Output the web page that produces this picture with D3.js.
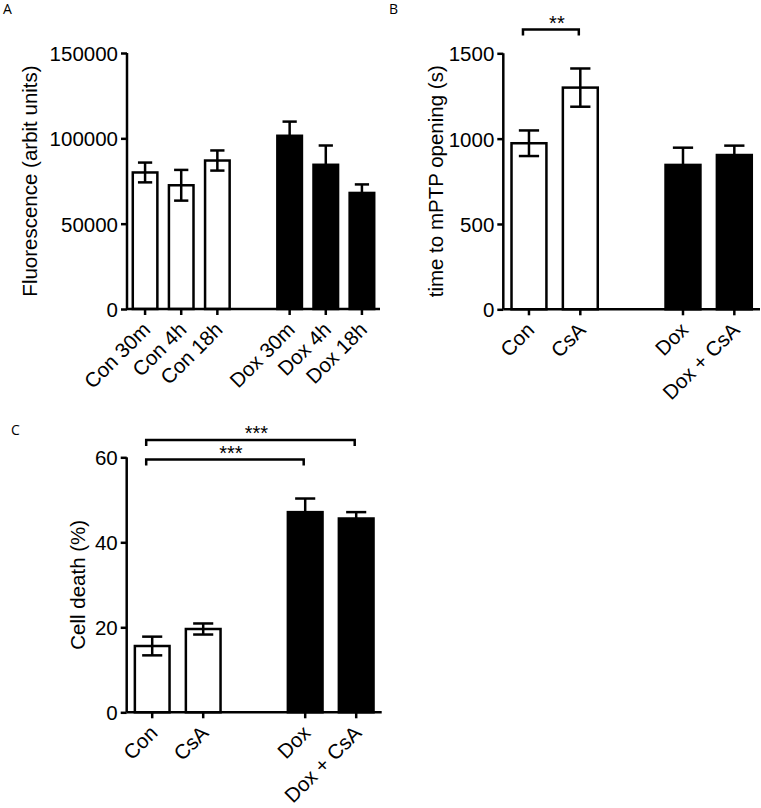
<!DOCTYPE html>
<html>
<head>
<meta charset="utf-8">
<script src="https://cdn.jsdelivr.net/npm/d3@7"></script>
<style>
  html, body { margin: 0; padding: 0; background: #fff; }
  svg { display: block; }
  text { font-family: "Liberation Sans", Arial, sans-serif; fill: #000; }
</style>
</head>
<body>
<svg id="chart" width="761" height="808"></svg>
<script>
// ---------- DATA ----------
// Panel A
const catsA = ["Con 30m", "Con 4h", "Con 18h", "Dox 30m", "Dox 4h", "Dox 18h"];
const groupA = ["con", "con", "con", "dox", "dox", "dox"];
const meanA = [80000, 72500, 87000, 101500, 84500, 68000];
const semA = [5800, 9000, 5900, 8300, 11300, 5000];
const ticksA = [0, 50000, 100000, 150000];
const titleA = "Fluorescence (arbit units)";

// Panel B
const catsB = ["Con", "CsA", "Dox", "Dox + CsA"];
const groupB = ["con", "con", "dox", "dox"];
const meanB = [973, 1299, 846, 904];
const semB = [75, 112, 101, 55];
const ticksB = [0, 500, 1000, 1500];
const titleB = "time to mPTP opening (s)";
const sigFromB = ["Con"];
const sigToB = ["CsA"];
const sigLabelB = ["**"];
const sigLevelB = [1640];

// Panel C
const catsC = ["Con", "CsA", "Dox", "Dox + CsA"];
const groupC = ["con", "con", "dox", "dox"];
const meanC = [15.6, 19.6, 47.1, 45.6];
const semC = [2.2, 1.3, 3.2, 1.5];
const ticksC = [0, 20, 40, 60];
const titleC = "Cell death (%)";
const sigFromC = ["Con", "Con"];
const sigToC = ["Dox", "Dox + CsA"];
const sigLabelC = ["***", "***"];
const sigLevelC = [59.5, 64.1];

// ---------- DRAWING ----------
const svg = d3.select("#chart");
svg.append("rect").attr("width", 761).attr("height", 808).attr("fill", "#fff");
const SW = 2.5;
const FONT = '"Liberation Sans", Arial, sans-serif';

function drawPanel(opt) {
  const g = svg.append("g");
  // insert a gap slot between groups
  const domain = [];
  opt.cats.forEach((c, i) => {
    if (i > 0 && opt.groups[i] !== opt.groups[i - 1]) domain.push("__gap");
    domain.push(c);
  });
  const x = d3.scaleBand().domain(domain).range([opt.x0, opt.x1]).paddingInner(0.32).paddingOuter(0.16);
  const y = d3.scaleLinear().domain([0, d3.max(opt.ticks)]).range([opt.y0, opt.y1]);
  const data = opt.cats.map((c, i) => ({ c, g: opt.groups[i], m: opt.mean[i], s: opt.sem[i] }));

  // bars
  g.selectAll("rect.bar").data(data).enter().append("rect")
    .attr("x", d => x(d.c))
    .attr("y", d => y(d.m))
    .attr("width", x.bandwidth())
    .attr("height", d => y(0) - y(d.m))
    .attr("fill", d => d.g === "con" ? "#fff" : "#000")
    .attr("stroke", "#000").attr("stroke-width", SW);

  // error bars
  const capW = x.bandwidth() * 0.58;
  data.forEach(d => {
    const cx = x(d.c) + x.bandwidth() / 2;
    g.append("line").attr("x1", cx).attr("x2", cx).attr("y1", y(d.m + d.s)).attr("y2", y(d.m - d.s))
      .attr("stroke", "#000").attr("stroke-width", SW);
    [d.m + d.s, d.m - d.s].forEach(v => {
      g.append("line").attr("x1", cx - capW / 2).attr("x2", cx + capW / 2)
        .attr("y1", y(v)).attr("y2", y(v)).attr("stroke", "#000").attr("stroke-width", SW);
    });
  });

  // y axis
  const yAxis = d3.axisLeft(y).tickValues(opt.ticks).tickSize(6).tickPadding(3).tickFormat(d3.format("d"));
  const ya = g.append("g").attr("transform", `translate(${opt.x0},0)`).call(yAxis);
  ya.select(".domain").attr("d", `M0,${opt.y0}V${opt.y1}`).attr("stroke-width", SW);
  ya.selectAll(".tick line").attr("stroke-width", SW);
  ya.selectAll(".tick text").style("font-size", "20.5px").attr("dy", "0.36em")
    .style("font-family", FONT);

  // x axis
  const xAxis = d3.axisBottom(x).tickValues(opt.cats).tickSize(6).tickFormat("");
  const xa = g.append("g").attr("transform", `translate(0,${opt.y0})`).call(xAxis);
  xa.select(".domain").attr("d", `M${opt.x0},0H${opt.x1}`).attr("stroke-width", SW);
  xa.selectAll(".tick line").attr("stroke-width", SW);
  xa.selectAll(".tick").append("text")
    .text(d => d)
    .attr("text-anchor", "end")
    .attr("transform", "translate(6.5,22) rotate(-45)")
    .attr("fill", "#000")
    .style("font-size", "20.5px")
    .style("font-family", FONT);

  // y title
  g.append("text")
    .attr("transform", `translate(${opt.titleX},${(opt.y0 + opt.y1) / 2}) rotate(-90)`)
    .attr("text-anchor", "middle")
    .style("font-size", "20.5px")
    .text(opt.title);

  // panel letter
  g.append("text").attr("x", opt.letterX).attr("y", opt.letterY)
    .style("font-size", "14px").style("font-family", '"Open Sans", "Liberation Sans", sans-serif')
    .text(opt.letter);

  // significance brackets
  if (opt.sigFrom) {
    opt.sigFrom.forEach((f, i) => {
      const xa1 = x(f) + x.bandwidth() / 2 - 6;
      const xa2 = x(opt.sigTo[i]) + x.bandwidth() / 2 - 1.5;
      const yy = y(opt.sigLevel[i]);
      g.append("path")
        .attr("d", `M${xa1},${yy + 6}V${yy}H${xa2}V${yy + 6}`)
        .attr("fill", "none").attr("stroke", "#000").attr("stroke-width", SW);
      g.append("text").attr("x", (xa1 + xa2) / 2 + 6).attr("y", yy + 0.5)
        .attr("text-anchor", "middle").style("font-size", "20px")
        .text(opt.sigLabel[i]);
    });
  }
}

drawPanel({
  cats: catsA, groups: groupA, mean: meanA, sem: semA, ticks: ticksA, title: titleA,
  x0: 127, x1: 380, y0: 309, y1: 53, titleX: 36.5, letter: "A", letterX: 3, letterY: 14
});
drawPanel({
  cats: catsB, groups: groupB, mean: meanB, sem: semB, ticks: ticksB, title: titleB,
  x0: 503.3, x1: 760, y0: 309.3, y1: 53.3, titleX: 443.3, letter: "B", letterX: 389, letterY: 14,
  sigFrom: sigFromB, sigTo: sigToB, sigLabel: sigLabelB, sigLevel: sigLevelB
});
drawPanel({
  cats: catsC, groups: groupC, mean: meanC, sem: semC, ticks: ticksC, title: titleC,
  x0: 126.7, x1: 381.7, y0: 712.3, y1: 457.3, titleX: 85, letter: "C", letterX: 11, letterY: 435,
  sigFrom: sigFromC, sigTo: sigToC, sigLabel: sigLabelC, sigLevel: sigLevelC
});
</script>
</body>
</html>
